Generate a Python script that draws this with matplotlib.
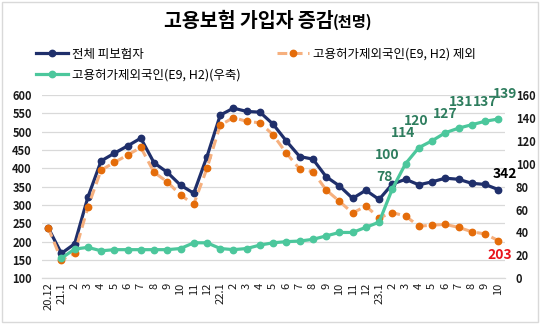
import numpy as np
import matplotlib
matplotlib.use("Agg")
import matplotlib.pyplot as plt
from matplotlib.patches import Rectangle

plt.rcParams['font.family'] = ['Noto Sans CJK KR', 'DejaVu Sans']

# 월별 카테고리 (20.12 ~ 23.10)
months = ["20.12", "21.1", "2", "3", "4", "5", "6", "7", "8", "9", "10", "11", "12",
          "22.1", "2", "3", "4", "5", "6", "7", "8", "9", "10", "11", "12",
          "23.1", "2", "3", "4", "5", "6", "7", "8", "9", "10"]

# 전체 피보험자 증감 (천명, 좌축)
total = [238, 168, 194, 321, 420, 441, 461, 482, 415, 389, 354, 332, 432,
         545, 564, 555, 553, 520, 474, 432, 425, 377, 352, 318, 340,
         315, 357, 370, 355, 363, 373, 370, 359, 356, 342]

# 고용허가제 외국인(E9, H2) 제외 증감 (천명, 좌축)
excl_foreign = [238, 150, 168, 294, 395, 416, 436, 457, 389, 363, 327, 302, 400,
                518, 538, 528, 524, 491, 441, 398, 391, 341, 310, 278, 297,
                265, 279, 270, 242, 245, 247, 239, 227, 221, 203]

# 고용허가제 외국인(E9, H2) 증감 (천명, 우축)
foreign = [np.nan, 17.5, 25.5, 27, 24, 25, 25, 25, 25, 25, 26, 31, 31,
           26, 25, 26, 29, 31, 32, 32.5, 34, 37, 40, 40, 44.5,
           49, 78, 100, 114, 120, 127, 131, 134, 137, 139]

# 우축 값 라벨 (인덱스, 라벨 오프셋 px)
foreign_label_idx = [26, 27, 28, 29, 30, 31, 33, 34]
foreign_label_off = [(-8, 12), (-18, 9), (-16, 15), (-16, 20), (0, 19), (3, 26), (0, 19), (7, 25)]

NAVY = "#1F2F6B"
ORANGE_LINE = "#F6B07E"
ORANGE_MK = "#E46C0A"
TEAL = "#4CC79C"
TEAL_TXT = "#2E7D5E"
GRID = "#D9D9D9"
TICK_COLOR = "#1A1A1A"

fig = plt.figure(figsize=(5.4, 3.24), dpi=100)
fig.patch.set_facecolor("white")
ax = fig.add_axes([0.0769, 0.141, 0.858, 0.566])
ax2 = ax.twinx()

x = np.arange(len(months))

l1, = ax.plot(x, total, color=NAVY, lw=2.3, marker='o', ms=4.6,
              mfc=NAVY, mec=NAVY, zorder=3, label="전체 피보험자")
l2, = ax.plot(x, excl_foreign, color=ORANGE_LINE, lw=2.2, ls=(0, (3.2, 1.8)),
              marker='o', ms=4.6, mfc=ORANGE_MK, mec=ORANGE_MK, zorder=4,
              label="고용허가제외국인(E9, H2) 제외")
l3, = ax2.plot(x, foreign, color=TEAL, lw=2.3, marker='o', ms=4.6,
               mfc=TEAL, mec=TEAL, zorder=5, label="고용허가제외국인(E9, H2)(우축)")

ax.set_xlim(-0.5, len(months) - 0.5)
ax.set_ylim(100, 600)
ax.set_yticks(np.arange(100, 601, 50))
ax2.set_ylim(0, 160)
ax2.set_yticks(np.arange(0, 161, 20))

ax.set_xticks(x)
ax.set_xticklabels(months, rotation=90, fontsize=8, color=TICK_COLOR)
ax.tick_params(axis='x', length=0, pad=3)
ax.tick_params(axis='y', length=0, pad=7, labelsize=8, labelcolor=TICK_COLOR)
ax2.tick_params(axis='y', length=0, pad=8, labelsize=8, labelcolor=TICK_COLOR)
for lab in ax.get_yticklabels() + ax2.get_yticklabels():
    lab.set_fontweight('bold')

ax.grid(axis='y', color=GRID, lw=0.9)
ax.set_axisbelow(True)
for a in (ax, ax2):
    for s in a.spines.values():
        s.set_visible(False)
ax.spines['bottom'].set_visible(True)
ax.spines['bottom'].set_color(GRID)
ax.spines['bottom'].set_linewidth(0.9)

# 값 라벨
for i, (dx, dy) in zip(foreign_label_idx, foreign_label_off):
    ax2.annotate(f"{foreign[i]:.0f}", (x[i], foreign[i]), xytext=(dx, dy),
                 textcoords='offset pixels', ha='center', va='center',
                 fontsize=10, fontweight='bold', color=TEAL_TXT, zorder=6)
ax.annotate(f"{total[-1]}", (x[-1], total[-1]), xytext=(7, 16),
            textcoords='offset pixels', ha='center', va='center',
            fontsize=10, fontweight='bold', color="black", zorder=6)
ax.annotate(f"{excl_foreign[-1]}", (x[-1], excl_foreign[-1]), xytext=(2, -14),
            textcoords='offset pixels', ha='center', va='center',
            fontsize=10, fontweight='bold', color="#E8141C", zorder=6)

# 제목
fig.text(0.617, 0.917, "고용보험 가입자 증감", ha='right', va='baseline',
         fontsize=14, fontweight='bold', color="black")
fig.text(0.617, 0.917, "(천명)", ha='left', va='baseline',
         fontsize=11, fontweight='bold', color="black")

# 범례
fig.legend(handles=[l1, l3, l2], ncol=2, loc='upper left',
           bbox_to_anchor=(0.066, 0.853), frameon=False, fontsize=9,
           handlelength=2.6, handletextpad=0.3, columnspacing=2.9,
           labelspacing=0.6, borderaxespad=0, borderpad=0)

# 차트 테두리
fig.add_artist(Rectangle((0.003, 0.005), 0.994, 0.99, transform=fig.transFigure,
                         fill=False, edgecolor="#D9D9D9", lw=1.0))

fig.savefig("out.png", dpi=100)
